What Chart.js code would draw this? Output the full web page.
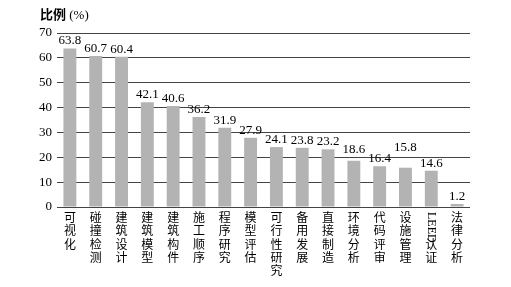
<!DOCTYPE html>
<html>
<head>
<meta charset="utf-8">
<script src="https://cdn.jsdelivr.net/npm/chart.js@4.4.1/dist/chart.umd.min.js"></script>
<style>
  html, body { margin: 0; padding: 0; background: #fff; }
  #wrap { width: 511px; height: 287px; }
</style>
</head>
<body>
<div id="wrap"><canvas id="chart"></canvas></div>
<script>
const categories = ["可视化", "碰撞检测", "建筑设计", "建筑模型", "建筑构件", "施工顺序", "程序研究", "模型评估",
    "可行性研究", "备用发展", "直接制造", "环境分析", "代码评审", "设施管理", "LEED认证", "法律分析"];
const values = [63.8, 60.7, 60.4, 42.1, 40.6, 36.2, 31.9, 27.9, 24.1, 23.8, 23.2, 18.6, 16.4, 15.8, 14.6, 1.2];
const yTicks = [0, 10, 20, 30, 40, 50, 60, 70];

const serif = "'Liberation Serif', 'Times New Roman', serif";
const cjk = "'Noto Sans CJK SC', sans-serif";

// value labels above bars + title + rotated LEED
const extras = {
    id: 'extras',
    afterDatasetsDraw(chart) {
        const ctx = chart.ctx;
        const meta = chart.getDatasetMeta(0);
        ctx.save();
        ctx.fillStyle = '#000';
        ctx.font = '13px ' + serif;
        ctx.textAlign = 'center';
        ctx.textBaseline = 'bottom';
        meta.data.forEach(function (bar, i) {
            var y = bar.y - 1;
            // the original lifts a couple of labels so they don't collide
            if (categories[i] === '设施管理') y -= 13;
            if (categories[i] === '环境分析') y -= 4;
            ctx.fillText(values[i].toFixed(1), bar.x, y);
        });
        ctx.restore();
    },
    afterDraw(chart) {
        const ctx = chart.ctx;
        ctx.save();
        ctx.fillStyle = '#000';
        ctx.textBaseline = 'alphabetic';
        ctx.textAlign = 'left';
        ctx.font = 'bold 13px ' + cjk;
        ctx.fillText('比例', 40, 19);
        var w = ctx.measureText('比例').width;
        ctx.font = '13px ' + serif;
        ctx.fillText(' (%)', 40 + w, 19);

        // LEED written sideways
        const idx = categories.indexOf('LEED认证');
        const x = chart.scales.x.getPixelForTick(idx);
        ctx.translate(x, 212);
        ctx.rotate(Math.PI / 2);
        ctx.font = '12px ' + serif;
        ctx.textBaseline = 'middle';
        ctx.fillText('LEED', 0, 0);
        ctx.restore();
    }
};

new Chart(document.getElementById('chart'), {
    type: 'bar',
    data: {
        labels: categories,
        datasets: [{
            data: values,
            backgroundColor: '#b3b3b3',
            borderWidth: 0,
            barPercentage: 0.5,
            categoryPercentage: 1.0
        }]
    },
    options: {
        responsive: true,
        maintainAspectRatio: false,
        animation: false,
        layout: { padding: { top: 33, right: 41, left: 0, bottom: 0 } },
        plugins: {
            legend: { display: false },
            tooltip: { enabled: false }
        },
        scales: {
            x: {
                grid: { display: false, drawTicks: false },
                border: { display: false },
                afterFit: function (s) { s.height = 80; },
                ticks: {
                    autoSkip: false,
                    maxRotation: 0,
                    padding: 4,
                    color: '#000',
                    font: { family: cjk, size: 12, lineHeight: 1.1 },
                    callback: function (v, i) {
                        const name = categories[i];
                        if (name === 'LEED认证') return ['', '', '认', '证'];
                        return name.split('');
                    }
                }
            },
            y: {
                min: 0,
                max: 70,
                afterFit: function (s) { s.width = 57; },
                afterBuildTicks: function (s) { s.ticks = yTicks.map(function (v) { return { value: v }; }); },
                border: { display: false },
                grid: { color: '#444', lineWidth: 1, drawTicks: false },
                ticks: {
                    padding: 5,
                    color: '#000',
                    font: { family: serif, size: 13 }
                }
            }
        }
    },
    plugins: [extras]
});
</script>
</body>
</html>
